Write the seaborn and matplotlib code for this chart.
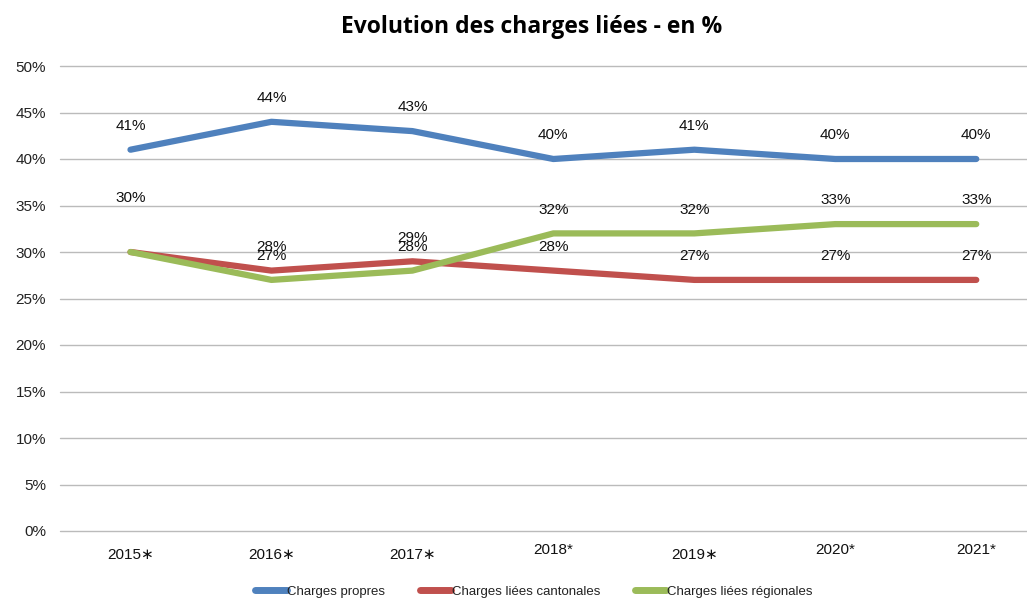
import pandas as pd
import matplotlib.pyplot as plt
import seaborn as sns

years = ['2015∗', '2016∗', '2017∗', '2018*', '2019∗', '2020*', '2021*']
propres = [41, 44, 43, 40, 41, 40, 40]
cantonales = [30, 28, 29, 28, 27, 27, 27]
regionales = [30, 27, 28, 32, 32, 33, 33]
series_names = ['Charges propres', 'Charges liées cantonales', 'Charges liées régionales']
colors = ['#4F81BD', '#C0504D', '#9BBB59']

all_vals = [propres, cantonales, regionales]
rows = []
for name, vals in zip(series_names, all_vals):
    for i, v in enumerate(vals):
        rows.append({'x': i, 'year': years[i], 'serie': name, 'val': v / 100})
df = pd.DataFrame(rows)

sns.set_theme(style='white')
plt.rcParams['font.family'] = ['Liberation Sans', 'DejaVu Sans']

fig = plt.figure(figsize=(10.27, 5.98), dpi=100)
ax = fig.add_axes([60 / 1027, 67 / 598, 967 / 1027, 465 / 598])

sns.lineplot(data=df, x='x', y='val', hue='serie', palette=colors,
             linewidth=4.5, ax=ax, legend=True, solid_capstyle='round')

# data labels above each point (a shared value gets one label, set higher)
for k, vals in enumerate(all_vals):
    for i, v in enumerate(vals):
        shared = [all_vals[j][i] for j in range(len(all_vals)) if j != k].count(v) > 0
        if shared and any(all_vals[j][i] == v for j in range(k)):
            continue
        off = 39 if shared else 17
        ax.annotate(f'{v}%', (i, v / 100), xytext=(0, off), textcoords='offset points',
                    ha='center', va='center', fontsize=11, color='#111111')

ax.set_ylim(0, 0.5)
ax.set_xlim(-0.5, 6.36)
ax.set_yticks([i / 100 for i in range(0, 51, 5)])
ax.set_yticklabels([f'{i}%' for i in range(0, 51, 5)], fontsize=11, color='#222222')
ax.set_xticks(range(len(years)))
ax.set_xticklabels(years, fontsize=11, color='#111111')
for i, t in enumerate(ax.xaxis.get_major_ticks()):
    t.set_pad(8.5 if years[i].endswith('*') else 12.5)
ax.tick_params(axis='both', length=0)
ax.tick_params(axis='y', pad=10)
ax.grid(axis='y', color='#BBBBBB', linewidth=1)
for gl in ax.get_ygridlines():
    gl.set_clip_on(False)
ax.set_axisbelow(True)
for s in ax.spines.values():
    s.set_visible(False)
ax.set_xlabel('')
ax.set_ylabel('')

leg = ax.legend(loc='center', bbox_to_anchor=(0.49, -0.131), ncol=3, frameon=False,
                fontsize=9.5, handlelength=2.4, columnspacing=2.6, handletextpad=0.05,
                labelcolor='#222222')
for line in leg.get_lines():
    line.set_linewidth(5)
    line.set_solid_capstyle('round')

fig.text(0.518, 1 - 27 / 598, 'Evolution des charges liées - en %', ha='center', va='center',
         fontsize=16.5, fontweight='bold', color='black', family=['Open Sans', 'DejaVu Sans'])

fig.savefig('out.png', dpi=100)
